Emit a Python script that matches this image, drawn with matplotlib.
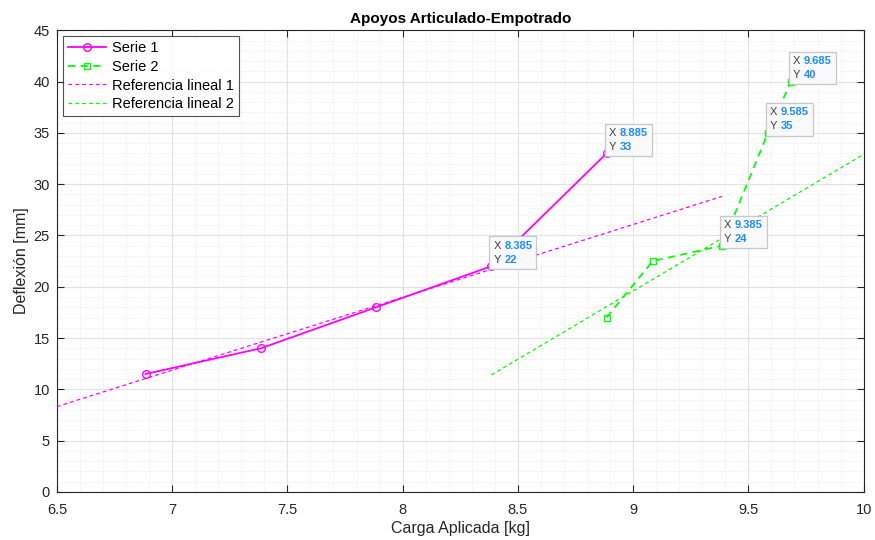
import matplotlib
matplotlib.use("Agg")
import matplotlib.pyplot as plt
from matplotlib.ticker import MultipleLocator
from matplotlib.offsetbox import TextArea, HPacker, VPacker, AnnotationBbox

plt.rcParams['font.family'] = ['Liberation Sans', 'DejaVu Sans']

# Series data
serie1_x = [6.885, 7.385, 7.885, 8.385, 8.885]
serie1_y = [11.5, 14, 18, 22, 33]
serie2_x = [8.885, 9.085, 9.385, 9.585, 9.685]
serie2_y = [17, 22.5, 24, 35, 40]

# Linear reference lines (end points)
ref1_x = [6.5, 9.385]
ref1_y = [8.32, 28.8]
ref2_x = [8.385, 10.0]
ref2_y = [11.4, 32.9]

# Data tips
tips_x = [8.385, 8.885, 9.385, 9.585, 9.685]
tips_y = [22, 33, 24, 35, 40]

magenta = '#ff00ff'
green = '#00ff00'
axcol = '#262626'

fig = plt.figure(figsize=(8.75, 5.4), dpi=100)
ax = fig.add_axes([0.065, 0.089, 0.922, 0.855])

ax.plot(serie1_x, serie1_y, '-', color=magenta, lw=1.3, marker='o', ms=5.5,
        mfc='none', mew=1.0, label='Serie 1', zorder=4)
ax.plot(serie2_x, serie2_y, color=green, lw=1.3, ls=(0, (4, 3)), marker='s', ms=4.5,
        mfc='none', mew=1.0, label='Serie 2', zorder=4)
ax.plot(ref1_x, ref1_y, color=magenta, lw=0.9, ls=(0, (3, 2.5)),
        label='Referencia lineal 1', zorder=3)
ax.plot(ref2_x, ref2_y, color=green, lw=0.9, ls=(0, (3, 2.5)),
        label='Referencia lineal 2', zorder=3)

ax.set_xlim(6.5, 10)
ax.set_ylim(0, 45)
ax.xaxis.set_major_locator(MultipleLocator(0.5))
ax.xaxis.set_minor_locator(MultipleLocator(0.1))
ax.yaxis.set_major_locator(MultipleLocator(5))
ax.yaxis.set_minor_locator(MultipleLocator(1))
ax.set_xticks([6.5, 7, 7.5, 8, 8.5, 9, 9.5, 10])
ax.set_xticklabels(['6.5', '7', '7.5', '8', '8.5', '9', '9.5', '10'])

ax.grid(which='major', color='#e2e2e2', lw=0.8)
ax.grid(which='minor', color='#ececec', lw=0.6, ls=(0, (1.5, 1.5)))
ax.set_axisbelow(True)

for s in ax.spines.values():
    s.set_color(axcol)
    s.set_linewidth(0.8)
ax.tick_params(which='major', direction='in', length=5, width=0.8, color=axcol,
               labelsize=10.5, labelcolor=axcol, top=True, right=True, pad=5)
ax.tick_params(axis='x', which='major', pad=8)
ax.tick_params(which='minor', length=0, top=True, right=True)

ax.set_xlabel('Carga Aplicada [kg]', fontsize=11.5, color=axcol, labelpad=3)
ax.set_ylabel('Deflexión [mm]', fontsize=11.5, color=axcol, labelpad=3)
ax.set_title('Apoyos Articulado-Empotrado', fontsize=11, fontweight='bold',
             color='black', pad=5)

leg = ax.legend(loc='upper left', fontsize=10.5, frameon=True, fancybox=False,
                handlelength=2.6, borderpad=0.35, labelspacing=0.32,
                handletextpad=0.4, borderaxespad=0.4)
leg.get_frame().set_edgecolor(axcol)
leg.get_frame().set_linewidth(0.8)

# Data tips
ax.plot(tips_x, tips_y, 'o', color='black', ms=2.5, zorder=6)
for tx, ty in zip(tips_x, tips_y):
    lab = dict(fontsize=8, color='#404040')
    val = dict(fontsize=8, color='#1a8cff', fontweight='bold')
    row1 = HPacker(children=[TextArea('X', textprops=lab),
                             TextArea(f'{tx:g}', textprops=val)],
                   pad=0, sep=2.5)
    row2 = HPacker(children=[TextArea('Y', textprops=lab),
                             TextArea(f'{ty:g}', textprops=val)],
                   pad=0, sep=2.5)
    box = VPacker(children=[row1, row2], pad=0, sep=3, align='left')
    ab = AnnotationBbox(box, (tx, ty), xybox=(1.5, 1.0), xycoords='data',
                        boxcoords='offset points', box_alignment=(0, 0),
                        pad=0.5, zorder=7,
                        bboxprops=dict(boxstyle='square', fc='#f9f9fc',
                                       ec='#c8c8c8', lw=0.9))
    ax.add_artist(ab)

fig.savefig('out.png', dpi=100)
